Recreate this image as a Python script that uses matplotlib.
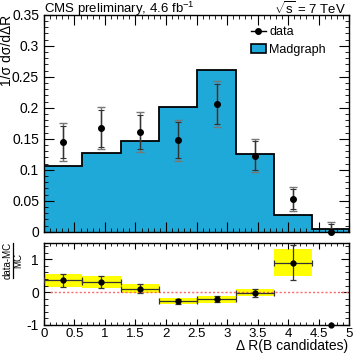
import numpy as np
import matplotlib
matplotlib.use("Agg")
import matplotlib.pyplot as plt
from matplotlib.ticker import MultipleLocator
from matplotlib.lines import Line2D
from matplotlib.patches import Patch

plt.rcParams['font.family'] = ['Liberation Sans', 'DejaVu Sans']
plt.rcParams['mathtext.fontset'] = 'custom'
plt.rcParams['mathtext.rm'] = 'Liberation Sans'
plt.rcParams['mathtext.it'] = 'Liberation Sans:italic'

# data
bin_edges = [0.0, 0.628, 1.257, 1.885, 2.513, 3.142, 3.770, 4.398, 5.0]
mc_values = [0.106, 0.128, 0.146, 0.202, 0.261, 0.125, 0.027, 0.005]
data_values = [0.145, 0.167, 0.161, 0.148, 0.206, 0.123, 0.053, 0.0]
data_err_total = [0.030, 0.034, 0.032, 0.033, 0.037, 0.027, 0.019, 0.016]
data_err_stat = [0.026, 0.030, 0.028, 0.029, 0.032, 0.023, 0.016, 0.013]
ratio_values = [0.36, 0.31, 0.11, -0.28, -0.22, -0.02, 0.90, -1.0]
ratio_band = [0.20, 0.17, 0.14, 0.09, 0.10, 0.11, 0.41, 0.0]
ratio_err = [0.20, 0.18, 0.14, 0.08, 0.09, 0.12, 0.54, 0.0]

edges = np.array(bin_edges)
centers = 0.5 * (edges[:-1] + edges[1:])
halfw = 0.5 * (edges[1:] - edges[:-1])

W, H = 357, 354
fig = plt.figure(figsize=(3.57, 3.54), dpi=100)
ax1 = fig.add_axes([0.123, 0.345, 0.855, 0.613])
ax2 = fig.add_axes([0.123, 0.082, 0.855, 0.232])

fill_col = '#1fa9d8'
ax1.stairs(mc_values, edges, fill=True, color=fill_col, zorder=1)
ax1.stairs(mc_values, edges, fill=False, color='black', lw=1.3, zorder=2)

ax1.errorbar(centers, data_values, yerr=data_err_total, fmt='none', ecolor='#777777',
             elinewidth=1.0, capsize=3, capthick=1.0, zorder=3)
ax1.errorbar(centers, data_values, yerr=data_err_stat, fmt='none', ecolor='#333333',
             elinewidth=1.0, capsize=2, capthick=0.8, zorder=4)
ax1.plot(centers, data_values, 'o', color='black', ms=4, zorder=5, clip_on=False)

ax1.set_xlim(0, 5)
ax1.set_ylim(0, 0.35)
ax1.set_xticks(np.arange(0, 5.01, 0.5))
ax1.set_xticklabels([])
ax1.set_yticks([0, 0.05, 0.1, 0.15, 0.2, 0.25, 0.3, 0.35])
ax1.set_yticklabels(['0', '0.05', '0.1', '0.15', '0.2', '0.25', '0.3', '0.35'])
ax1.yaxis.set_minor_locator(MultipleLocator(0.01))
ax1.xaxis.set_minor_locator(MultipleLocator(0.1))
ax1.set_ylabel('1/σ dσ/dΔR', fontsize=10)
ax1.yaxis.set_label_coords(-0.098, 1.0)
ax1.yaxis.label.set_ha('right')

h_data = Line2D([], [], color='black', marker='o', ms=4, lw=1)
h_mc = Patch(facecolor=fill_col, edgecolor='black', lw=1.2)
ax1.legend([h_data, h_mc], ['data', 'Madgraph'], loc='upper left',
           bbox_to_anchor=(0.64, 1.0), frameon=False, fontsize=9,
           handlelength=1.2, handletextpad=0.3, labelspacing=0.45)

fig.text(0.123, 1 - 13.5 / H, 'CMS preliminary, 4.6 fb$^{-1}$', fontsize=9.5,
         ha='left', va='baseline')
fig.text(0.97, 1 - 13.5 / H, '$\\sqrt{\\mathrm{s}}$ = 7 TeV', fontsize=9.5,
         ha='right', va='baseline')

# ratio panel
for i in range(len(centers)):
    if ratio_band[i] > 0:
        ax2.bar(centers[i], 2 * ratio_band[i], width=2 * halfw[i],
                bottom=ratio_values[i] - ratio_band[i], color='#ffff00',
                edgecolor='none', zorder=1)
ax2.plot([0.1, 5], [0, 0], color='#ff6666', ls=(0, (1.5, 1.5)), lw=1.0, zorder=2)
sel = np.array(ratio_err) > 0
ax2.errorbar(centers[sel], np.array(ratio_values)[sel], yerr=np.array(ratio_err)[sel],
             xerr=halfw[sel], fmt='none', ecolor='#333333', elinewidth=0.9,
             capsize=2.5, capthick=0.9, zorder=3)
ax2.plot(centers, ratio_values, 'o', color='black', ms=3.5, zorder=4, clip_on=False)

ax2.set_xlim(0, 5)
ax2.set_ylim(-1, 1.5)
ax2.set_xticks(np.arange(0, 5.01, 0.5))
ax2.set_xticklabels(['0', '0.5', '1', '1.5', '2', '2.5', '3', '3.5', '4', '4.5', '5'])
ax2.set_yticks([-1, 0, 1])
ax2.set_yticklabels(['-1', '0', '1'])
ax2.yaxis.set_minor_locator(MultipleLocator(0.2))
ax2.xaxis.set_minor_locator(MultipleLocator(0.1))
fig.text(0.975, 1 - 350 / H, 'Δ R(B candidates)', fontsize=10, ha='right', va='baseline')

# fraction y-label of the ratio panel
fig.text(7.5 / W, 1 - 260 / H, 'data-MC', fontsize=7, rotation=90, ha='center', va='center')
fig.text(18 / W, 1 - 260 / H, 'MC', fontsize=7, rotation=90, ha='center', va='center')
fig.add_artist(Line2D([12.5 / W, 12.5 / W], [1 - 243 / H, 1 - 278 / H],
                      color='black', lw=0.9, transform=fig.transFigure))

for ax in (ax1, ax2):
    ax.tick_params(which='both', direction='in', top=True, right=True, labelsize=10)
    ax.tick_params(which='major', length=6, width=0.8)
    ax.tick_params(which='minor', length=3, width=0.6)
    for s in ax.spines.values():
        s.set_linewidth(1.0)
ax1.tick_params(which='major', length=7)
ax2.tick_params(axis='y', which='major', length=6)
ax2.tick_params(axis='x', which='major', length=4, pad=2, labelsize=9.5)
ax2.tick_params(axis='x', which='minor', length=2)

fig.savefig('out.png', dpi=100)
